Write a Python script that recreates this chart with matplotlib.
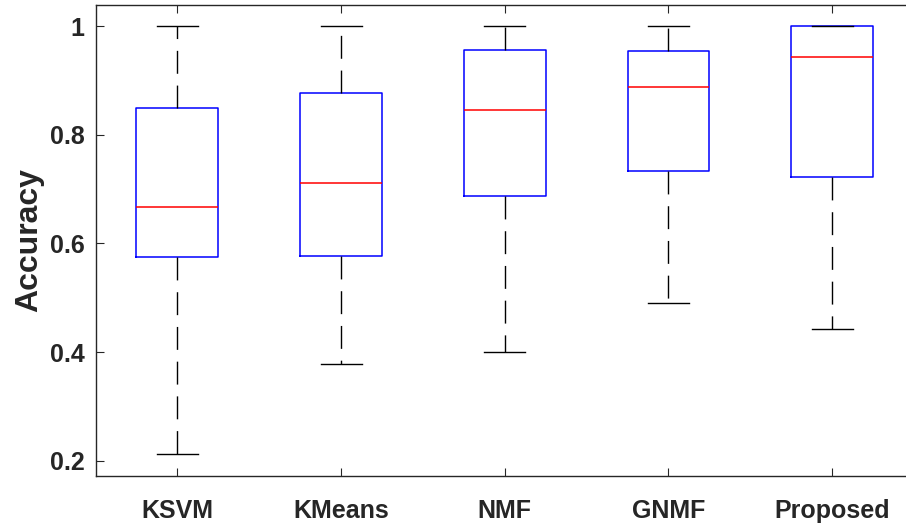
import numpy as np
import matplotlib
matplotlib.use('Agg')
import matplotlib.pyplot as plt

plt.rcParams['font.family'] = ['Liberation Sans', 'DejaVu Sans']
plt.rcParams['font.weight'] = 'bold'

# valeurs (boxplot style matlab)
methodes = ['KSVM', 'KMeans', 'NMF', 'GNMF', 'Proposed']
whis_bas = [0.212, 0.378, 0.400, 0.490, 0.443]
q1 = [0.575, 0.577, 0.688, 0.733, 0.722]
mediane = [0.667, 0.712, 0.846, 0.889, 0.944]
q3 = [0.849, 0.877, 0.957, 0.955, 1.000]
whis_haut = [1.0, 1.0, 1.0, 1.0, 1.0]

stats = []
for i in range(len(methodes)):
    stats.append({'label': methodes[i], 'whislo': whis_bas[i], 'q1': q1[i],
                  'med': mediane[i], 'q3': q3[i], 'whishi': whis_haut[i], 'fliers': []})

fig = plt.figure(figsize=(9.06, 5.29), dpi=100)
# l'axe depasse un peu a droite comme sur l'original
ax = fig.add_axes([95.5/906, 1-475.7/529, (914-95.5)/906, (475.7-5)/529])

ax.bxp(stats, positions=range(1, 6), widths=0.5, capwidths=0.25,
       showfliers=False,
       boxprops=dict(color='#0000ff', linewidth=1.1),
       medianprops=dict(color='#ff0000', linewidth=1.1),
       whiskerprops=dict(color='black', linewidth=1.0, linestyle=(0, (16.5, 8.5))),
       capprops=dict(color='black', linewidth=1.0))

ax.set_xlim(0.5, 5.5)
ax.set_ylim(0.172, 1.0396)
ax.set_yticks([0.2, 0.4, 0.6, 0.8, 1.0])
ax.set_yticklabels(['0.2', '0.4', '0.6', '0.8', '1'])
ax.set_xticks(range(1, 6))
ax.set_xticklabels(methodes)

for s in ax.spines.values():
    s.set_color('#262626')
    s.set_linewidth(1.0)

ax.tick_params(axis='both', direction='in', length=6, width=0.8, color='#262626',
               labelsize=18, labelcolor='#262626', top=True, right=True)
ax.tick_params(axis='x', pad=17)
ax.tick_params(axis='y', pad=8)
ax.set_ylabel('Accuracy', fontsize=23, fontweight='bold', color='#262626', labelpad=4)

fig.savefig('out.png', dpi=100)
